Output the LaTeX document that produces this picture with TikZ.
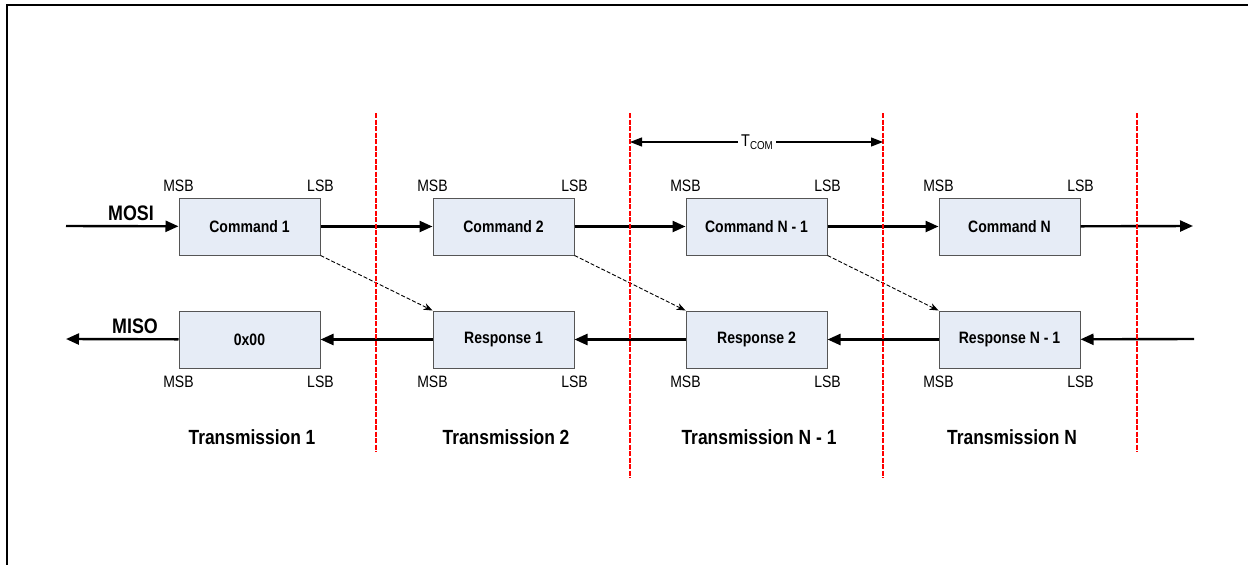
\documentclass[tikz,border=0pt]{standalone}
\usepackage{fontspec}
\setmainfont{Liberation Sans}[FakeStretch=0.85]
\usepackage{tikz}
\usetikzlibrary{arrows.meta}

\definecolor{boxfill}{RGB}{230,236,246}
\definecolor{boxline}{RGB}{85,85,85}

\tikzset{
  frame/.style={line width=2.2pt},
  word/.style={draw=boxline, fill=boxfill, line width=1pt, minimum width=141pt,
                minimum height=57pt, inner sep=0pt, font=\fontsize{16.5}{18}\selectfont\bfseries},
  bitlbl/.style={inner sep=0pt, font=\fontsize{16.5}{18}\selectfont},
  sigl/.style={inner sep=0pt, font=\fontsize{21}{24}\selectfont\bfseries},
  txl/.style={inner sep=0pt, font=\fontsize{20.5}{24}\selectfont\bfseries},
  bus/.style={line width=2.4pt, -{Triangle[length=13pt,width=11pt]}},
  echo/.style={line width=0.9pt, dash pattern=on 4pt off 2pt, -{Stealth[length=9pt,width=7pt]}},
  sep/.style={red, line width=1.3pt, dash pattern=on 5pt off 1.5pt},
  span/.style={line width=1.2pt, -{Triangle[length=12pt,width=9pt]}}
}

\begin{document}
\begin{tikzpicture}[x=1pt, y=-1pt]
\useasboundingbox (0,0) rectangle (1248,565);

% outer frame
\draw[frame] (7,566) -- (7,5) -- (1249,5);

% free ends of the two lines
\coordinate (mosiin) at (66,226);
\coordinate (mosiout) at (1193,226);
\coordinate (misoin) at (1194,339);
\coordinate (misoout) at (66,339);

% command words
\node[word] (cmd1)  at (249.5,226.5) {Command 1};
\node[word] (cmd2)  at (503.5,226.5) {Command 2};
\node[word] (cmdn1) at (756.5,226.5) {Command N - 1};
\node[word] (cmdn)  at (1009.5,226.5) {Command N};

% response words
\node[word] (rsp0)  at (249.5,339.5) {0x00};
\node[word] (rsp1)  at (503.5,339.5) {Response 1};
\node[word] (rsp2)  at (756.5,339.5) {Response 2};
\node[word] (rspn1) at (1009.5,339.5) {Response N - 1};

% bit order
\node[bitlbl] at ([yshift=12pt]cmd1.north west) {MSB};
\node[bitlbl] at ([yshift=12pt]cmd1.north east) {LSB};
\node[bitlbl] at ([yshift=12pt]cmd2.north west) {MSB};
\node[bitlbl] at ([yshift=12pt]cmd2.north east) {LSB};
\node[bitlbl] at ([yshift=12pt]cmdn1.north west) {MSB};
\node[bitlbl] at ([yshift=12pt]cmdn1.north east) {LSB};
\node[bitlbl] at ([yshift=12pt]cmdn.north west) {MSB};
\node[bitlbl] at ([yshift=12pt]cmdn.north east) {LSB};
\node[bitlbl] at ([yshift=-13pt]rsp0.south west) {MSB};
\node[bitlbl] at ([yshift=-13pt]rsp0.south east) {LSB};
\node[bitlbl] at ([yshift=-13pt]rsp1.south west) {MSB};
\node[bitlbl] at ([yshift=-13pt]rsp1.south east) {LSB};
\node[bitlbl] at ([yshift=-13pt]rsp2.south west) {MSB};
\node[bitlbl] at ([yshift=-13pt]rsp2.south east) {LSB};
\node[bitlbl] at ([yshift=-13pt]rspn1.south west) {MSB};
\node[bitlbl] at ([yshift=-13pt]rspn1.south east) {LSB};

% signal names
\node[sigl] (mosi) at (131,213) {MOSI};
\node[sigl] (miso) at (135,326) {MISO};

% MOSI line
\draw[bus] (mosiin) -- (cmd1);
\draw[bus] (cmd1) -- (cmd2);
\draw[bus] (cmd2) -- (cmdn1);
\draw[bus] (cmdn1) -- (cmdn);
\draw[bus] (cmdn) -- (mosiout);

% MISO line
\draw[bus] (misoin) -- (rspn1);
\draw[bus] (rspn1) -- (rsp2);
\draw[bus] (rsp2) -- (rsp1);
\draw[bus] (rsp1) -- (rsp0);
\draw[bus] (rsp0) -- (misoout);

% command -> response
\draw[echo] (cmd1.south east) -- (rsp1.north west);
\draw[echo] (cmd2.south east) -- (rsp2.north west);
\draw[echo] (cmdn1.south east) -- (rspn1.north west);

% transmission borders
\draw[sep] (376,113) -- (376,452);
\draw[sep] (630,113) -- (630,478);
\draw[sep] (883,113) -- (883,478);
\draw[sep] (1137,113) -- (1137,452);

% command period
\coordinate (tl) at (630,142);
\coordinate (tr) at (883,142);
\node[inner sep=0pt, font=\fontsize{17}{20}\selectfont] (tcom) at (757,142)
  {T\raisebox{-3pt}{\fontsize{11.5}{12}\selectfont COM}};
\draw[span] ([xshift=-3pt]tcom.west) -- (tl);
\draw[span] ([xshift=3pt]tcom.east) -- (tr);

% transmissions
\node[txl] (tx1)  at (252,437) {Transmission 1};
\node[txl] (tx2)  at (506,437) {Transmission 2};
\node[txl] (txn1) at (759,437) {Transmission N - 1};
\node[txl] (txn)  at (1012,437) {Transmission N};
\end{tikzpicture}
\end{document}
